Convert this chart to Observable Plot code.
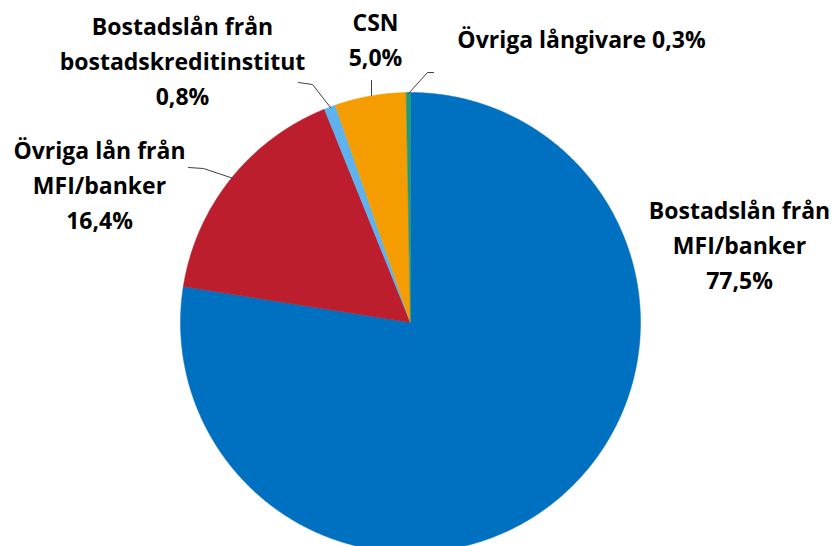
<!DOCTYPE html>
<html>
<head>
<meta charset="utf-8">
<script src="https://cdn.jsdelivr.net/npm/d3@7"></script>
<script src="https://cdn.jsdelivr.net/npm/@observablehq/plot@0.6"></script>
<style>
  html, body { margin: 0; padding: 0; background: #fff; }
  #chart { width: 834px; height: 546px; overflow: hidden; }
</style>
</head>
<body>
<div id="chart"></div>
<script>
// Data (clockwise from 12 o'clock)
const categories = [
  "Bostadslån från MFI/banker",
  "Övriga lån från MFI/banker",
  "Bostadslån från bostadskreditinstitut",
  "CSN",
  "Övriga långivare"
];
const values = [77.5, 16.4, 0.8, 5.0, 0.3];
const valueLabels = ["77,5%", "16,4%", "0,8%", "5,0%", "0,3%"];
const labelLines = [
  ["Bostadslån från", "MFI/banker", "77,5%"],
  ["Övriga lån från", "MFI/banker", "16,4%"],
  ["Bostadslån från", "bostadskreditinstitut", "0,8%"],
  ["CSN", "5,0%"],
  ["Övriga långivare 0,3%"]
];
const colors = ["#0070C0", "#BC1E2D", "#5EB3EE", "#F59C00", "#23987A"];

// Layout (pixels), kept apart from data
const W = 834, H = 546;
const cx = 410, cy = 322, R = 230;
const labelCenters = [[739, 211], [99, 151], [182, 27], [375, 23], [581, 40]];
const lineHeight = 35;
const leaders = [
  null,
  [[188, 167], [203, 168], [233, 178]],
  [[298, 82], [312, 84], [330, 107]],
  [[371, 80], [371, 95]],
  [[433, 72], [427, 72], [408, 93]]
];

const pie = d3.pie().sort(null).value(d => d.value)
  .startAngle(0).endAngle(2 * Math.PI);
const data = categories.map((c, i) => ({category: c, value: values[i], color: colors[i], i}));
const arcs = pie(data);

// Build slice polygons in unit coordinates
const polys = [];
arcs.forEach(a => {
  const n = Math.max(4, Math.ceil((a.endAngle - a.startAngle) / 0.005));
  polys.push({slice: a.data.i, x: 0, y: 0, color: a.data.color, k: 0});
  for (let j = 0; j <= n; j++) {
    const t = a.startAngle + (a.endAngle - a.startAngle) * j / n;
    polys.push({slice: a.data.i, x: Math.sin(t), y: Math.cos(t), color: a.data.color, k: j + 1});
  }
  polys.push({slice: a.data.i, x: 0, y: 0, color: a.data.color, k: n + 2});
});

// Scales: unit circle -> radius R centered at (cx, cy)
const xDomain = [-cx / R, (W - cx) / R];
const yDomain = [-(H - cy) / R, cy / R];

const px = x => (x - cx) / R;
const py = y => (cy - y) / R;

const textRows = [];
labelLines.forEach((lines, i) => {
  const [lx, ly] = labelCenters[i];
  lines.forEach((t, j) => {
    textRows.push({x: px(lx), y: py(ly + j * lineHeight), text: t});
  });
});
const leaderRows = [];
leaders.forEach((pts, i) => {
  if (!pts) return;
  pts.forEach(p => leaderRows.push({x: px(p[0]), y: py(p[1]), z: i}));
});

const chart = Plot.plot({
  width: W,
  height: H,
  margin: 0,
  x: {domain: xDomain, range: [0, W], axis: null},
  y: {domain: yDomain, range: [H, 0], axis: null},
  style: {background: "#fff", fontFamily: "'Open Sans', sans-serif"},
  marks: [
    Plot.line(polys, {
      x: "x", y: "y", z: "slice",
      fill: d => d.color, stroke: d => d.color, strokeWidth: 0.5,
      curve: "linear"
    }),
    Plot.line(leaderRows, {x: "x", y: "y", z: "z", stroke: "#404040", strokeWidth: 1}),
    Plot.text(textRows, {
      x: "x", y: "y", text: "text",
      fontSize: 23, fontWeight: "bold", fill: "#000",
      textAnchor: "middle", lineAnchor: "middle"
    })
  ]
});
document.getElementById("chart").appendChild(chart);
</script>
</body>
</html>
